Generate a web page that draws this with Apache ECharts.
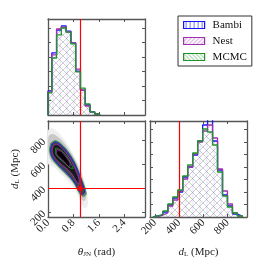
<!DOCTYPE html>
<html><head><meta charset="utf-8">
<script src="https://cdn.jsdelivr.net/npm/echarts@6/dist/echarts.min.js"></script>
<style>html,body{margin:0;padding:0;background:#fff}#c{width:266px;height:266px}</style>
</head><body><div id="c"></div>
<script>
// ---------------- data ----------------
const seriesNames = ['Bambi', 'Nest', 'MCMC'];
const trueTheta = 1.0;
const trueDL = 400;

// theta_JN marginal histogram (bin edges in rad, densities)
const thetaEdges = [0, 0.12, 0.27, 0.42, 0.57, 0.72, 0.87, 1.02, 1.17, 1.32, 1.47, 1.62];
const thetaBambi = [1.66, 4.28, 5.86, 6.14, 5.79, 4.97, 3.03, 1.72, 0.69, 0.21, 0.07];
const thetaNest  = [1.59, 4.14, 5.93, 6.07, 5.72, 4.97, 3.17, 1.72, 0.62, 0.21, 0.07];
const thetaMCMC  = [1.52, 3.93, 5.52, 6.00, 5.72, 4.90, 2.97, 1.86, 0.76, 0.21, 0.07];

// d_L marginal histogram (bin edges in Mpc, densities)
const dlEdges = [184, 225, 266, 307, 348, 389, 430, 471, 512, 553, 594, 635, 676, 717, 758, 799, 840, 881, 922];
const dlBambi = [0.08, 0.16, 0.40, 0.96, 1.52, 2.00, 3.20, 4.00, 4.96, 6.08, 7.36, 8.00, 6.08, 3.76, 1.76, 0.88, 0.24, 0.08];
const dlNest  = [0.04, 0.16, 0.32, 0.88, 1.36, 2.08, 3.04, 4.00, 5.04, 6.00, 6.88, 7.36, 6.32, 3.84, 2.08, 1.04, 0.32, 0.08];
const dlMCMC  = [0.08, 0.20, 0.48, 1.04, 1.60, 2.16, 3.28, 4.16, 5.12, 6.08, 7.04, 6.80, 5.76, 3.60, 1.68, 0.80, 0.32, 0.08];

// tick values / labels
const thetaTicks = [0, 0.8, 1.6, 2.4];
const thetaTickLabels = ['0.0', '0.8', '1.6', '2.4'];
const dlTicks = [200, 400, 600, 800];
const dlTickLabels = ['200', '400', '600', '800'];
const densTicksTheta = [1, 2, 3, 4, 5, 6];
const densTicksDL = [1, 2, 3, 4, 5, 6, 7];

// 2D posterior: density shading regions (theta, d_L)
const densityHalo = [[0.0,880],[0.12,900],[0.3,870],[0.5,810],[0.7,730],[0.9,630],[1.05,540],[1.17,440],[1.25,340],[1.25,262],[1.17,232],[1.07,255],[0.96,325],[0.8,405],[0.6,468],[0.4,520],[0.2,572],[0.0,605]];
const densityMid = [[0.02,835],[0.15,852],[0.35,820],[0.55,762],[0.75,684],[0.93,595],[1.08,495],[1.18,400],[1.2,320],[1.13,292],[1.02,322],[0.86,410],[0.66,476],[0.46,530],[0.26,588],[0.08,635],[0.01,700]];
// contours
const contourMCMC = [[0.09,777],[0.22,796],[0.38,777],[0.54,735],[0.70,679],[0.85,610],[0.96,540],[1.06,471],[1.16,402],[1.20,352],[1.11,332],[0.99,360],[0.85,429],[0.70,485],[0.49,540],[0.28,596],[0.12,652],[0.05,721],[0.09,777]];
const contourBambi = [[0.12,768],[0.23,785],[0.37,766],[0.53,726],[0.69,670],[0.84,603],[0.95,536],[1.04,473],[1.12,410],[1.15,366],[1.09,348],[0.99,374],[0.86,438],[0.70,494],[0.50,550],[0.30,602],[0.15,652],[0.08,712],[0.12,768]];
const contourNest = [[0.17,752],[0.26,766],[0.38,748],[0.52,710],[0.67,655],[0.80,594],[0.90,530],[0.98,470],[0.97,438],[0.90,452],[0.78,508],[0.62,556],[0.45,592],[0.28,632],[0.17,672],[0.13,715],[0.17,752]];
const contourMCMCInner = [[0.24,735],[0.40,718],[0.58,670],[0.74,598],[0.80,565],[0.70,568],[0.52,612],[0.35,650],[0.24,690],[0.24,735]];
const contourNestInner = [[0.28,722],[0.42,705],[0.57,660],[0.70,598],[0.66,580],[0.52,618],[0.37,655],[0.27,690],[0.28,722]];

// ---------------- style ----------------
const colors = ['#1515ff', '#a030b0', '#22922a'];
const hatchAlpha = [0.12, 0.3, 0.3];
const frame = '#555';
const serif = 'Liberation Serif';

function hatch(color, kind, s, alpha) {
  const c = document.createElement('canvas');
  c.width = s; c.height = s;
  const g = c.getContext('2d');
  g.strokeStyle = color; g.globalAlpha = alpha; g.lineWidth = 1;
  g.beginPath();
  if (kind === '|') { g.moveTo(s / 2 + 0.5, 0); g.lineTo(s / 2 + 0.5, s); }
  else if (kind === '/') { g.moveTo(0, s); g.lineTo(s, 0); g.moveTo(-1, 1); g.lineTo(1, -1); g.moveTo(s - 1, s + 1); g.lineTo(s + 1, s - 1); }
  else { g.moveTo(0, 0); g.lineTo(s, s); g.moveTo(-1, s - 1); g.lineTo(1, s + 1); g.moveTo(s - 1, -1); g.lineTo(s + 1, 1); }
  g.stroke();
  return { image: c, repeat: 'repeat' };
}
const kinds = ['|', '/', '\\'];
const patterns = colors.map((c, i) => hatch(c, kinds[i], 7, hatchAlpha[i]));
const legendPatterns = colors.map((c, i) => hatch(c, kinds[i], 4, 0.6));

function stepPath(edges, vals) {
  const pts = [[edges[0], 0]];
  vals.forEach((v, i) => { pts.push([edges[i], v]); pts.push([edges[i + 1], v]); });
  pts.push([edges[edges.length - 1], 0]);
  return pts;
}

const grids = [
  { left: 48, top: 19, width: 97, height: 96 },
  { left: 48, top: 121, width: 97, height: 96 },
  { left: 150, top: 121, width: 97, height: 96 }
];

const labelStyle = { fontFamily: serif, fontSize: 11, color: '#222' };
function axis(grid, pos, min, max, ticks, labels, extra) {
  const a = {
    type: 'value', gridIndex: grid, position: pos, min: min, max: max,
    axisLine: { show: true, onZero: false, lineStyle: { color: frame, width: 1.3 } },
    axisTick: { show: true, inside: true, length: 3, customValues: ticks, lineStyle: { color: frame } },
    axisLabel: labels ? Object.assign({ show: true, rotate: 45, margin: 4, customValues: ticks,
      formatter: v => labels[ticks.findIndex(t => Math.abs(t - v) < 1e-9)] || '' }, labelStyle) : { show: false },
    splitLine: { show: false }
  };
  return Object.assign(a, extra || {});
}
const nameStyle = {
  fontFamily: serif, fontSize: 11, color: '#222',
  rich: {
    i: { fontFamily: serif, fontSize: 11, fontStyle: 'italic', color: '#222' },
    s: { fontFamily: serif, fontSize: 7, color: '#222', verticalAlign: 'bottom', padding: [4, 0, 0, 0] },
    t: { fontFamily: serif, fontSize: 11, color: '#222' }
  }
};

const thetaMax = 3.05, dlMin = 160, dlMax = 960, densThetaMax = 6.62, densDLMax = 7.68;

const xAxis = [
  axis(0, 'bottom', 0, thetaMax, thetaTicks, null),
  axis(0, 'top', 0, thetaMax, thetaTicks, null),
  axis(1, 'bottom', 0, thetaMax, thetaTicks, thetaTickLabels,
    { name: '{i|θ}{s|JN}{t| (rad)}', nameLocation: 'middle', nameGap: 30, nameTextStyle: nameStyle }),
  axis(1, 'top', 0, thetaMax, thetaTicks, null),
  axis(2, 'bottom', dlMin, dlMax, dlTicks, dlTickLabels,
    { name: '{i|d}{s|L}{t| (Mpc)}', nameLocation: 'middle', nameGap: 30, nameTextStyle: nameStyle }),
  axis(2, 'top', dlMin, dlMax, dlTicks, null)
];
const yAxis = [
  axis(0, 'left', 0, densThetaMax, densTicksTheta, null),
  axis(0, 'right', 0, densThetaMax, densTicksTheta, null),
  axis(1, 'left', dlMin, dlMax, dlTicks, dlTickLabels,
    { name: '{i|d}{s|L}{t| (Mpc)}', nameLocation: 'middle', nameGap: 27, nameTextStyle: nameStyle }),
  axis(1, 'right', dlMin, dlMax, dlTicks, null),
  axis(2, 'left', 0, densDLMax, densTicksDL, null),
  axis(2, 'right', 0, densDLMax, densTicksDL, null)
];

const series = [];
// marginal histograms
const thetaSets = [thetaBambi, thetaNest, thetaMCMC];
const dlSets = [dlBambi, dlNest, dlMCMC];
seriesNames.forEach((n, i) => {
  series.push({
    type: 'line', name: n, xAxisIndex: 0, yAxisIndex: 0, data: stepPath(thetaEdges, thetaSets[i]),
    symbol: 'none', clip: true, z: 3 + i,
    itemStyle: { color: colors[i] }, lineStyle: { color: colors[i], width: 1.3 },
    areaStyle: { color: patterns[i], opacity: 1, origin: 'start' }
  });
  series.push({
    type: 'line', name: n, xAxisIndex: 4, yAxisIndex: 4, data: stepPath(dlEdges, dlSets[i]),
    symbol: 'none', clip: true, z: 3 + i,
    itemStyle: { color: colors[i] }, lineStyle: { color: colors[i], width: 1.3 },
    areaStyle: { color: patterns[i], opacity: 1, origin: 'start' }
  });
});
// red truth lines on marginals
series.push({ type: 'line', xAxisIndex: 0, yAxisIndex: 0, data: [], z: 10,
  markLine: { silent: true, symbol: 'none', label: { show: false }, lineStyle: { color: '#ff0000', width: 1.2, type: 'solid' }, data: [{ xAxis: trueTheta }] } });
series.push({ type: 'line', xAxisIndex: 4, yAxisIndex: 4, data: [], z: 10,
  markLine: { silent: true, symbol: 'none', label: { show: false }, lineStyle: { color: '#ff0000', width: 1.2, type: 'solid' }, data: [{ xAxis: trueDL }] } });

// 2D density shading
const shading = [[densityHalo, '#efefef'], [densityMid, '#c8c8c8'], [contourMCMC, '#7a7a7a'],
  [contourBambi, '#444444'], [contourNest, '#1a1a1a'], [contourNestInner, '#000000']];
series.push({
  type: 'custom', xAxisIndex: 2, yAxisIndex: 2, data: [[0, 500]], z: 1, clip: true,
  renderItem: function (params, api) {
    return { type: 'group', children: shading.map(s => ({
      type: 'polygon', shape: { points: s[0].map(p => api.coord(p)), smooth: 0.3 }, style: { fill: s[1] } })) };
  }
});
// contours
[[contourMCMC, 2], [contourBambi, 0], [contourNest, 1], [contourMCMCInner, 2], [contourNestInner, 1]].forEach(c => {
  series.push({ type: 'line', xAxisIndex: 2, yAxisIndex: 2, data: c[0], symbol: 'none', smooth: 0.3, z: 4,
    lineStyle: { color: colors[c[1]], width: 0.9 } });
});
// truth lines + marker on 2D
series.push({ type: 'scatter', xAxisIndex: 2, yAxisIndex: 2, data: [[trueTheta, trueDL]], symbol: 'rect', symbolSize: 5, z: 12,
  itemStyle: { color: '#ff0000' },
  markLine: { silent: true, symbol: 'none', label: { show: false }, lineStyle: { color: '#ff0000', width: 1.2, type: 'solid' },
    data: [{ xAxis: trueTheta }, { yAxis: trueDL }] } });

const chart = echarts.init(document.getElementById('c'), null, { renderer: 'canvas' });
chart.setOption({
  animation: false,
  backgroundColor: '#fff',
  grid: grids,
  xAxis: xAxis,
  yAxis: yAxis,
  legend: {
    left: 178, top: 16, orient: 'vertical', padding: [3, 5], itemGap: 4, itemWidth: 21, itemHeight: 7,
    backgroundColor: '#fff', borderColor: '#333', borderWidth: 1, borderRadius: 0,
    textStyle: { fontFamily: serif, fontSize: 11, color: '#111', padding: [0, 0, 0, 3], lineHeight: 12 },
    data: seriesNames.map((n, i) => ({ name: n, icon: 'rect',
      itemStyle: { color: legendPatterns[i], borderColor: colors[i], borderWidth: 1.2 } }))
  },
  series: series
});
</script>
</body></html>
